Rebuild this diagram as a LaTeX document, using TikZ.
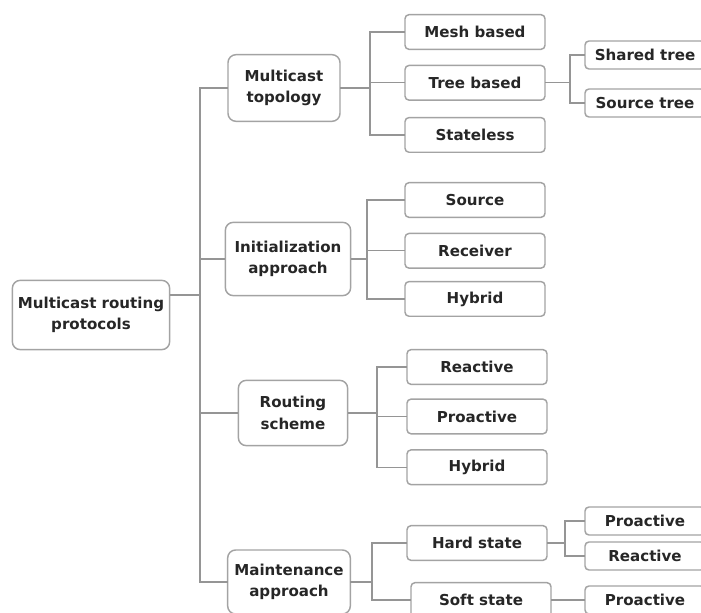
\documentclass[tikz,border=0pt]{standalone}
\usepackage{fontspec}
\setmainfont{DejaVu Sans}
\usetikzlibrary{positioning}
\definecolor{linegray}{HTML}{959595}
\definecolor{boxgray}{HTML}{A3A3A3}
\definecolor{textgray}{HTML}{262626}

\begin{document}
\begin{tikzpicture}[x=0.75pt,y=-0.75pt,-,thick,
    main node/.style={draw=boxgray,line width=1.1pt,rounded corners=6pt,align=center,
      text=textgray,font=\bfseries\fontsize{11.3}{16}\selectfont,inner sep=2pt},
    leaf node/.style={main node,rounded corners=3pt,minimum width=105pt,minimum height=26pt},
    sub node/.style={main node,rounded corners=3pt,minimum width=90pt,minimum height=21pt},
    link/.style={draw=linegray,line width=1pt,line cap=rect}]

  \useasboundingbox (0,0) rectangle (701,613);

  %Root%
  \node[main node,minimum width=118pt,minimum height=52pt] (root) at (91,315) {Multicast routing\\protocols};

  %Level one%
  \node[main node,minimum width=84pt,minimum height=50pt] (topo) at (284,88) {Multicast\\topology};
  \node[main node,minimum width=94pt,minimum height=55pt] (init) at (288,259) {Initialization\\approach};
  \node[main node,minimum width=82pt,minimum height=49pt] (routing) at (293,413) {Routing\\scheme};
  \node[main node,minimum width=92pt,minimum height=48pt] (maint) at (289,582) {Maintenance\\approach};

  %Level two%
  \node[leaf node] (mesh) at (475,32) {Mesh based};
  \node[leaf node] (tree) [below=11pt of mesh] {Tree based};
  \node[leaf node] (stateless) [below=12pt of tree] {Stateless};

  \node[leaf node] (source) at (475,200) {Source};
  \node[leaf node] (receiver) [below=11pt of source] {Receiver};
  \node[leaf node] (hybridi) [below=9pt of receiver] {Hybrid};

  \node[leaf node] (reactive) at (477,367) {Reactive};
  \node[leaf node] (proactive) [below=10pt of reactive] {Proactive};
  \node[leaf node] (hybridr) [below=11pt of proactive] {Hybrid};

  \node[leaf node] (hard) at (477,543) {Hard state};
  \node[leaf node] (soft) at (481,600) {Soft state};

  %Level three%
  \node[sub node] (shared) at (645,55) {Shared tree};
  \node[sub node] (srctree) at (645,103) {Source tree};
  \node[sub node] (prohard) at (645,521) {Proactive};
  \node[sub node] (rehard) at (645,556) {Reactive};
  \node[sub node] (prosoft) at (645,600) {Proactive};

  %Buses%
  \coordinate (trunk) at (200,0);
  \coordinate (bustopo) at (370,0);
  \coordinate (businit) at (367,0);
  \coordinate (busrouting) at (377,0);
  \coordinate (busmaint) at (372,0);
  \coordinate (bustree) at (570,0);
  \coordinate (bushard) at (565,0);

  \path[link]
    %Root%
    ([yshift=15pt]root.east) edge ([yshift=15pt]root.east -| trunk)
    (topo.west -| trunk) edge (maint.west -| trunk)
    (topo.west) edge (topo.west -| trunk)
    (init.west) edge (init.west -| trunk)
    (routing.west) edge (routing.west -| trunk)
    (maint.west) edge (maint.west -| trunk)
    %Multicast topology%
    (topo.east) edge (topo.east -| bustopo)
    (mesh.west -| bustopo) edge (stateless.west -| bustopo)
    (mesh.west) edge (mesh.west -| bustopo)
    (tree.west) edge (tree.west -| bustopo)
    (stateless.west) edge (stateless.west -| bustopo)
    (tree.east) edge (tree.east -| bustree)
    (shared.west -| bustree) edge (srctree.west -| bustree)
    (shared.west) edge (shared.west -| bustree)
    (srctree.west) edge (srctree.west -| bustree)
    %Initialization approach%
    (init.east) edge (init.east -| businit)
    (source.west -| businit) edge (hybridi.west -| businit)
    (source.west) edge (source.west -| businit)
    (receiver.west) edge (receiver.west -| businit)
    (hybridi.west) edge (hybridi.west -| businit)
    %Routing scheme%
    (routing.east) edge (routing.east -| busrouting)
    (reactive.west -| busrouting) edge (hybridr.west -| busrouting)
    (reactive.west) edge (reactive.west -| busrouting)
    (proactive.west) edge (proactive.west -| busrouting)
    (hybridr.west) edge (hybridr.west -| busrouting)
    %Maintenance approach%
    (maint.east) edge (maint.east -| busmaint)
    (hard.west -| busmaint) edge (soft.west -| busmaint)
    (hard.west) edge (hard.west -| busmaint)
    (soft.west) edge (soft.west -| busmaint)
    (hard.east) edge (hard.east -| bushard)
    (prohard.west -| bushard) edge (rehard.west -| bushard)
    (prohard.west) edge (prohard.west -| bushard)
    (rehard.west) edge (rehard.west -| bushard)
    (soft.east) edge (prosoft.west);
\end{tikzpicture}
\end{document}
